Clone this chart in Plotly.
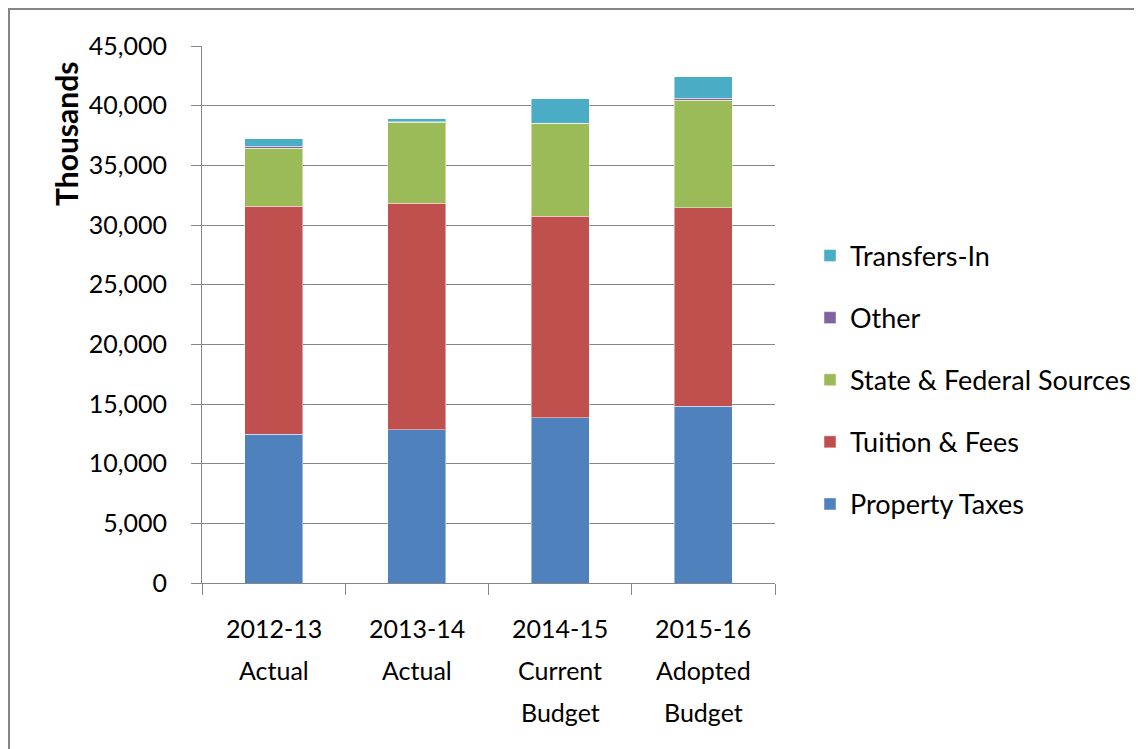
import plotly.graph_objects as go

category_lines = [
    ["2012-13", "Actual"],
    ["2013-14", "Actual"],
    ["2014-15", "Current", "Budget"],
    ["2015-16", "Adopted", "Budget"],
]
categories = [" ".join(c) for c in category_lines]
property_taxes = [12450, 12840, 13840, 14810]
tuition_fees = [19130, 18990, 16900, 16630]
state_federal = [4870, 6790, 7770, 9000]
other = [140, 50, 30, 170]
transfers_in = [650, 235, 2060, 1810]

series = [
    ("Property Taxes", property_taxes, "#4F81BD"),
    ("Tuition & Fees", tuition_fees, "#C0504D"),
    ("State & Federal Sources", state_federal, "#9BBB59"),
    ("Other", other, "#8064A2"),
    ("Transfers-In", transfers_in, "#4BACC6"),
]

FONT = "Lato, Carlito, Calibri, 'Open Sans', sans-serif"

# layout geometry (figure pixels)
L, T, PW, PH = 194, 38, 573, 537
W, H = 1142, 749

def px_x(x):
    return (x - L) / PW

def px_y(y):
    return (T + PH - y) / PH

fig = go.Figure()
n = len(series)
for i, (name, vals, color) in enumerate(series):
    fig.add_trace(go.Bar(
        x=categories, y=vals, name=name, legendgroup=name, legendrank=n - i,
        marker=dict(color=color, line=dict(color="rgba(255,255,255,0.45)", width=1)),
    ))

annotations = [dict(
    text="<b>Thousands</b>", textangle=-90, showarrow=False,
    xref="paper", yref="paper", x=px_x(58), y=px_y(126),
    xanchor="center", yanchor="middle",
    font=dict(family=FONT, size=30, color="#000000"),
)]
# multi-line category labels with Excel-like line pitch
line_centers = [620, 662, 704]
for cat, lines in zip(categories, category_lines):
    for j, line in enumerate(lines):
        annotations.append(dict(
            text=line, showarrow=False, xref="x", yref="paper",
            x=cat, y=px_y(line_centers[j]), xanchor="center", yanchor="middle",
            font=dict(family=FONT, size=25, color="#000000"),
        ))

fig.update_layout(
    width=W, height=H,
    margin=dict(l=L, r=W - L - PW, t=T, b=H - T - PH),
    barmode="stack", bargap=0.595,
    paper_bgcolor="white", plot_bgcolor="white",
    font=dict(family=FONT, size=25, color="#000000"),
    showlegend=True,
    legend=dict(
        x=px_x(802), y=px_y(372), xanchor="left", yanchor="middle",
        traceorder="grouped", tracegroupgap=24,
        font=dict(family=FONT, size=27, color="#000000"),
        itemwidth=30, bgcolor="rgba(0,0,0,0)",
    ),
    xaxis=dict(
        type="category", showline=True, linecolor="#868686", linewidth=1,
        ticks="outside", tickson="boundaries", ticklen=11, tickcolor="#868686",
        showgrid=False, showticklabels=False,
    ),
    yaxis=dict(
        range=[0, 45000], tickvals=list(range(0, 45001, 5000)),
        tickformat=",d", showline=True, linecolor="#868686", linewidth=1,
        ticks="outside", ticklen=10, tickcolor="#868686",
        showgrid=True, gridcolor="#868686", gridwidth=1,
        ticklabelstandoff=19, zeroline=False,
        tickfont=dict(family=FONT, size=25),
    ),
    annotations=annotations,
    shapes=[
        dict(type="line", xref="paper", yref="paper",
             x0=px_x(0), x1=px_x(W), y0=px_y(1), y1=px_y(1),
             line=dict(color="#868686", width=2)),
        dict(type="line", xref="paper", yref="paper",
             x0=px_x(1), x1=px_x(1), y0=px_y(0), y1=px_y(H),
             line=dict(color="#868686", width=2)),
    ],
)

fig.write_html("out.html")
